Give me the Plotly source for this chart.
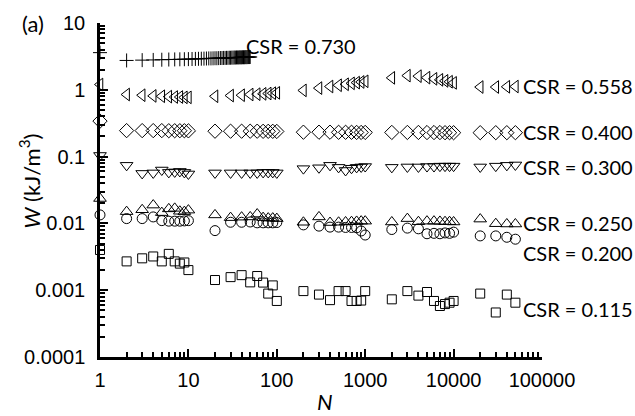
import plotly.graph_objects as go

# Cycle counts shared by the six lower series
N = [1, 2, 3, 4, 5, 6, 7, 8, 9, 10,
     20, 30, 40, 50, 60, 70, 80, 90, 100,
     200, 300, 400, 500, 600, 700, 800, 900, 1000,
     2000, 3000, 4000, 5000, 6000, 7000, 8000, 9000, 10000,
     20000, 30000, 40000, 50000]

# CSR = 0.730 was recorded every cycle up to 50
N_730 = list(range(1, 51))
W_730 = [3.6, 2.75, 2.78, 2.80, 2.82, 2.84, 2.85, 2.86, 2.87, 2.88,
         2.89, 2.90, 2.91, 2.92, 2.93, 2.94, 2.95, 2.95, 2.96, 2.97,
         2.97, 2.98, 2.99, 2.99, 3.00, 3.00, 3.01, 3.01, 3.02, 3.02,
         3.03, 3.03, 3.04, 3.04, 3.05, 3.05, 3.05, 3.06, 3.06, 3.06,
         3.07, 3.07, 3.07, 3.08, 3.08, 3.08, 3.09, 3.09, 3.09, 3.10]

W_558 = [1.20, 0.85, 0.83, 0.81, 0.80, 0.79, 0.78, 0.78, 0.77, 0.77,
         0.80, 0.82, 0.83, 0.85, 0.86, 0.87, 0.88, 0.89, 0.90,
         0.98, 1.06, 1.12, 1.17, 1.21, 1.25, 1.28, 1.31, 1.34,
         1.51, 1.63, 1.60, 1.52, 1.46, 1.41, 1.36, 1.32, 1.27,
         1.10, 1.10, 1.11, 1.12]

W_400 = [0.34, 0.245, 0.245, 0.245, 0.245, 0.244, 0.244, 0.244, 0.244, 0.243,
         0.240, 0.240, 0.240, 0.240, 0.240, 0.239, 0.239, 0.239, 0.238,
         0.232, 0.232, 0.232, 0.231, 0.231, 0.231, 0.230, 0.230, 0.230,
         0.230, 0.230, 0.230, 0.229, 0.229, 0.229, 0.228, 0.228, 0.228,
         0.228, 0.228, 0.228, 0.228]

W_300 = [0.104, 0.074, 0.056, 0.057, 0.063, 0.058, 0.059, 0.060, 0.058, 0.055,
         0.057, 0.057, 0.057, 0.057, 0.057, 0.058, 0.058, 0.058, 0.057,
         0.066, 0.068, 0.074, 0.069, 0.062, 0.067, 0.069, 0.070, 0.071,
         0.069, 0.070, 0.070, 0.071, 0.071, 0.072, 0.072, 0.072, 0.072,
         0.070, 0.072, 0.074, 0.075]

W_250 = [0.0236, 0.0150, 0.0160, 0.0188, 0.0145, 0.0165, 0.0168, 0.0152, 0.0150, 0.0158,
         0.0134, 0.0122, 0.0124, 0.0125, 0.0138, 0.0122, 0.0120, 0.0120, 0.0118,
         0.0104, 0.0125, 0.0103, 0.0104, 0.0105, 0.0106, 0.0107, 0.0108, 0.0108,
         0.0105, 0.0118, 0.0106, 0.0108, 0.0108, 0.0107, 0.0106, 0.0106, 0.0105,
         0.0116, 0.0099, 0.0098, 0.0098]

W_200 = [0.0134, 0.0118, 0.0118, 0.0125, 0.0110, 0.0108, 0.0108, 0.0108, 0.0109, 0.0110,
         0.0078, 0.0104, 0.0104, 0.0105, 0.0102, 0.0102, 0.0102, 0.0102, 0.0103,
         0.0095, 0.0091, 0.0088, 0.0088, 0.0087, 0.0087, 0.0086, 0.0077, 0.0067,
         0.0081, 0.0085, 0.0083, 0.0070, 0.0071, 0.0070, 0.0072, 0.0071, 0.0074,
         0.0065, 0.0065, 0.0062, 0.0058]

W_115 = [0.0040, 0.0027, 0.0030, 0.0032, 0.0027, 0.0035, 0.0027, 0.0025, 0.0026, 0.0020,
         0.00142, 0.00157, 0.00168, 0.00131, 0.00163, 0.00130, 0.00089, 0.00118, 0.00069,
         0.00097, 0.00086, 0.00071, 0.00097, 0.00097, 0.00069, 0.00069, 0.00070, 0.00097,
         0.00073, 0.00097, 0.00083, 0.00094, 0.00069, 0.00058, 0.00062, 0.00065, 0.00069,
         0.00089, 0.000464, 0.00086, 0.00065]

series = [
    ("CSR = 0.730", N_730, W_730, "cross-thin-open", 10),
    ("CSR = 0.558", N, W_558, "triangle-left-open", 11),
    ("CSR = 0.400", N, W_400, "diamond-open", 11),
    ("CSR = 0.300", N, W_300, "triangle-down-open", 11),
    ("CSR = 0.250", N, W_250, "triangle-up-open", 11),
    ("CSR = 0.200", N, W_200, "circle-open", 10),
    ("CSR = 0.115", N, W_115, "square-open", 9),
]

# Label anchor points (log10 N, log10 W)
label_pos = {
    "CSR = 0.730": (1.625, 0.657),
    "CSR = 0.558": (4.76, 0.059),
    "CSR = 0.400": (4.76, -0.638),
    "CSR = 0.300": (4.76, -1.157),
    "CSR = 0.250": (4.76, -1.999),
    "CSR = 0.200": (4.76, -2.444),
    "CSR = 0.115": (4.76, -3.283),
}

x_ticks = [1, 10, 100, 1000, 10000, 100000]
x_ticktext = ["1", "10", "100", "1000", "10000", "100000"]
y_ticks = [0.0001, 0.001, 0.01, 0.1, 1, 10]
y_ticktext = ["0.0001", "0.001", "0.01", "0.1", "1", "10"]

fig = go.Figure()
for name, xs, ys, sym, sz in series:
    fig.add_trace(go.Scatter(
        x=xs, y=ys, mode="markers", name=name, cliponaxis=False,
        marker=dict(symbol=sym, size=sz, color="black",
                    line=dict(color="black", width=1)),
    ))

minor_x = [m * 10 ** d for d in range(0, 5) for m in range(2, 10)]
minor_y = [m * 10 ** d for d in range(-4, 1) for m in range(2, 10)]

tick_font = dict(family="Liberation Sans, Arial, sans-serif", size=20, color="black")
label_font = dict(family="Lato, sans-serif", size=20, color="black")
title_font = dict(family="Lato, sans-serif", size=22, color="black")

fig.update_xaxes(
    type="log", range=[0, 5], tickvals=x_ticks, ticktext=x_ticktext,
    showline=True, linewidth=2.5, linecolor="black", showgrid=False, zeroline=False,
    ticks="inside", ticklen=8, tickwidth=2, tickcolor="black",
    minor=dict(tickvals=minor_x, ticks="inside", ticklen=5, tickwidth=2,
               tickcolor="black", showgrid=False),
    tickfont=tick_font, ticklabelstandoff=3,
)
fig.update_yaxes(
    type="log", range=[-4, 1], tickvals=y_ticks, ticktext=y_ticktext,
    showline=True, linewidth=2.5, linecolor="black", showgrid=False, zeroline=False,
    ticks="inside", ticklen=8, tickwidth=2, tickcolor="black",
    minor=dict(tickvals=minor_y, ticks="inside", ticklen=5, tickwidth=2,
               tickcolor="black", showgrid=False),
    tickfont=tick_font, ticklabelstandoff=8,
)

annotations = []
for name, (lx, ly) in label_pos.items():
    annotations.append(dict(x=lx, y=ly, xref="x", yref="y", text=name,
                            showarrow=False, xanchor="left", yanchor="middle",
                            font=label_font))

# Frame-level texts placed in pixels, converted to paper coordinates below
W_PX, H_PX = 635, 416
L, R, T, B = 100, 93, 20, 59
pixel_texts = [
    dict(x=20, y=20, text="(a)", xanchor="left", font=title_font),
    dict(x=30, y=180, text="<i>W</i> (kJ/m<sup>3</sup>)", textangle=-90,
         xanchor="center", font=title_font),
    dict(x=325, y=402, text="<i>N</i>", xanchor="center", font=title_font),
]
for a in pixel_texts:
    a["x"] = (a["x"] - L) / (W_PX - L - R)
    a["y"] = 1 - (a["y"] - T) / (H_PX - T - B)
    a.update(xref="paper", yref="paper", showarrow=False, yanchor="middle")
    annotations.append(a)

fig.update_layout(
    width=W_PX, height=H_PX,
    margin=dict(l=L, r=R, t=T, b=B),
    paper_bgcolor="white", plot_bgcolor="white",
    showlegend=False, annotations=annotations,
)

fig.write_html("out.html")
